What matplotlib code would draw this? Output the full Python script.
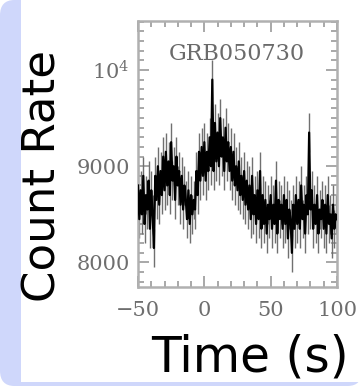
import matplotlib
matplotlib.use("Agg")
import matplotlib.pyplot as plt
from matplotlib.patches import FancyBboxPatch, Rectangle
from matplotlib.ticker import MultipleLocator, FixedLocator, FixedFormatter

# ---- data ----
time_s = list(range(-50, 101))
count_rate = [
    8800, 8450, 8750, 8500, 8900, 8400, 8700, 8550, 8850, 8350,
    8750, 8500, 8150, 8900, 8650, 9000, 8600, 8950, 8700, 9100,
    8750, 9150, 8800, 9050, 8700, 9250, 8850, 9000, 8650, 9100,
    8800, 8950, 8600, 8900, 8550, 8800, 8650, 8450, 8750, 8400,
    8700, 8500, 8650, 8550, 8950, 8700, 9150, 8850, 9200, 8900,
    9250, 8850, 9150, 8950, 9300, 9000, 9900, 8950, 9450, 9050,
    9350, 9000, 9500, 9100, 9300, 8950, 9400, 9050, 9250, 8950,
    9200, 8850, 9150, 8800, 9000, 8750, 9050, 8700, 8900, 8650,
    8950, 8600, 8850, 8550, 8800, 8450, 8900, 8500, 8700, 8400,
    8750, 8450, 8950, 8350, 8700, 8400, 8650, 8300, 8600, 8450,
    8700, 8350, 8600, 8400, 8850, 8300, 8650, 8450, 8600, 8350,
    8700, 8400, 8650, 8250, 8550, 8450, 8100, 8600, 8350, 8700,
    8400, 8650, 8350, 8800, 8450, 8600, 8300, 8700, 8500, 9350,
    8550, 8750, 8350, 8600, 8400, 8700, 8300, 8550, 8450, 8650,
    8350, 8600, 8300, 8700, 8400, 8500, 8250, 8600, 8350, 8500,
    8450,
]
count_err = 200
title_text = "GRB050730"
x_ticks = [-50, 0, 50, 100]
y_ticks = [8000, 9000, 10000]
y_tick_labels = ["8000", "9000", r"$10^4$"]

plt.rcParams["mathtext.fontset"] = "dejavuserif"

W, H = 362, 386
fig = plt.figure(figsize=(W / 100, H / 100), dpi=100)
fig.patch.set_facecolor("white")

blue = "#cfd7fb"
# slide frame
fig.patches.append(FancyBboxPatch((0, 0), 1, 1, boxstyle="round,pad=0,rounding_size=0.04",
                                  transform=fig.transFigure, facecolor=blue, edgecolor="none", zorder=-2))
fig.patches.append(Rectangle((21 / W, 4 / H), 1, 1, transform=fig.transFigure,
                             facecolor="white", edgecolor="none", zorder=-1))

ax = fig.add_axes([138 / W, 1 - 287 / H, (337 - 138) / W, (287 - 21) / H])
ax.set_zorder(2)
ax.set_facecolor("white")

ax.errorbar(time_s, count_rate, yerr=count_err, fmt="none", ecolor="#707070", elinewidth=1.0, zorder=2)
ax.plot(time_s, count_rate, color="black", lw=1.6, zorder=3)

ax.set_xlim(-50, 100)
ax.set_ylim(7745, 10509)

grey = "#9a9a9a"
for s in ax.spines.values():
    s.set_color("#b0b0b0")
    s.set_linewidth(1.8)

ax.xaxis.set_major_locator(FixedLocator(x_ticks))
ax.xaxis.set_minor_locator(MultipleLocator(10))
ax.yaxis.set_major_locator(FixedLocator(y_ticks))
ax.yaxis.set_major_formatter(FixedFormatter(y_tick_labels))
ax.yaxis.set_minor_locator(MultipleLocator(100))
ax.tick_params(which="both", direction="in", top=True, right=True, color=grey, width=1.2)
ax.tick_params(which="major", length=8)
ax.tick_params(which="minor", length=4)
ax.tick_params(axis="x", which="major", pad=10, labelsize=15, labelcolor="#6e6e6e")
ax.tick_params(axis="y", which="major", pad=6, labelsize=15, labelcolor="#6e6e6e")
for lab in ax.get_xticklabels() + ax.get_yticklabels():
    lab.set_family("DejaVu Serif")

ax.text(0.497, 0.876, title_text, transform=ax.transAxes, ha="center", va="center",
        fontsize=16, family="DejaVu Serif", color="#6a6a6a")

fig.text(43 / W, 1 - 176 / H, "Count Rate", rotation=90, ha="center", va="center",
         fontsize=32.5, color="black", family="DejaVu Sans")
fig.text(250 / W, 1 - 357 / H, "Time (s)", ha="center", va="center",
         fontsize=35, color="black", family="DejaVu Sans")

fig.savefig("out.png", dpi=100)
